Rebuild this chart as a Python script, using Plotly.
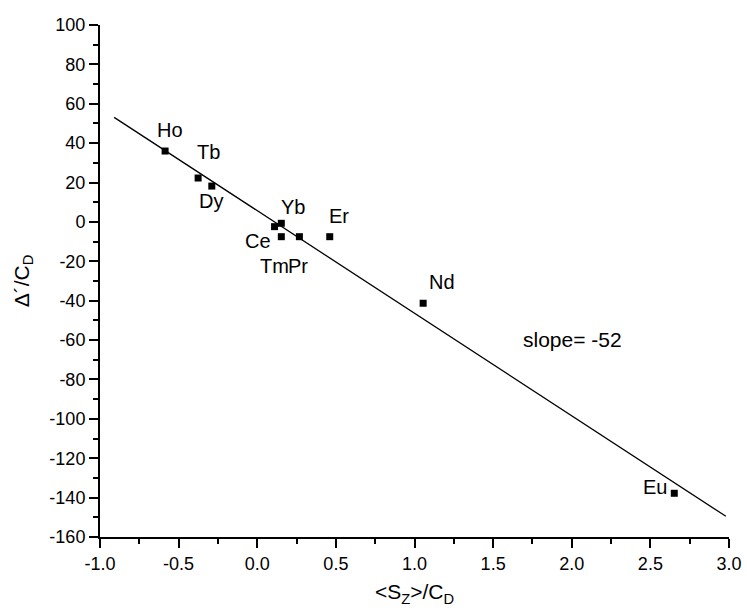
import plotly.graph_objects as go

# data
elements = ["Ho", "Tb", "Dy", "Ce", "Yb", "Tm", "Pr", "Er", "Nd", "Eu"]
sz_cd = [-0.586, -0.376, -0.289, 0.110, 0.153, 0.153, 0.268, 0.461, 1.055, 2.652]
delta_cd = [36.0, 22.3, 18.2, -2.4, -0.7, -7.5, -7.5, -7.5, -41.3, -137.8]

fit_x = [-0.91, 2.98]
fit_y = [53.1, -149.5]

# tick labels (hyphen-minus as in the reference)
x_ticks = [-1.0, -0.5, 0.0, 0.5, 1.0, 1.5, 2.0, 2.5, 3.0]
x_ticktext = ["-1.0", "-0.5", "0.0", "0.5", "1.0", "1.5", "2.0", "2.5", "3.0"]
y_ticks = [100, 80, 60, 40, 20, 0, -20, -40, -60, -80, -100, -120, -140, -160]
y_ticktext = ["100", "80", "60", "40", "20", "0", "-20", "-40", "-60", "-80",
              "-100", "-120", "-140", "-160"]

# label anchor positions (data coordinates)
label_x = [-0.554, -0.312, -0.293, 0.005, 0.229, 0.107, 0.262, 0.521, 1.173, 2.530]
label_y = [46.7, 35.5, 10.6, -9.9, 7.7, -22.4, -22.4, 3.2, -30.3, -134.8]

FONT = "Liberation Sans, Arial, sans-serif"

fig = go.Figure()
fig.add_trace(go.Scatter(x=fit_x, y=fit_y, mode="lines",
                         line=dict(color="black", width=1.3), showlegend=False,
                         hoverinfo="skip"))
fig.add_trace(go.Scatter(x=sz_cd, y=delta_cd, mode="markers", text=elements,
                         marker=dict(symbol="square", size=7, color="black"),
                         showlegend=False))

for name, lx, ly in zip(elements, label_x, label_y):
    fig.add_annotation(x=lx, y=ly, text=name, showarrow=False,
                       font=dict(family=FONT, size=20, color="black"),
                       xanchor="center", yanchor="middle")

fig.add_annotation(x=2.004, y=-59.6, text="slope= -52", showarrow=False,
                   font=dict(family=FONT, size=21, color="black"),
                   xanchor="center", yanchor="middle")

axis_common = dict(
    showline=True, linecolor="black", linewidth=2, mirror=False,
    ticks="outside", ticklen=9, tickwidth=2, tickcolor="black",
    showgrid=False, zeroline=False,
    tickfont=dict(family=FONT, size=18, color="black"),
)

fig.update_xaxes(range=[-1.0, 3.0], tickmode="array", tickvals=x_ticks,
                 ticktext=x_ticktext,
                 minor=dict(dtick=0.25, ticks="outside", ticklen=5, tickwidth=2,
                            tickcolor="black", showgrid=False),
                 title=dict(text="&lt;S<sub>Z</sub>&gt;/C<sub>D</sub>",
                            font=dict(family=FONT, size=21, color="black"),
                            standoff=12),
                 **axis_common)
fig.update_yaxes(range=[-160, 100], tickmode="array", tickvals=y_ticks,
                 ticktext=y_ticktext,
                 minor=dict(dtick=10, ticks="outside", ticklen=5, tickwidth=2,
                            tickcolor="black", showgrid=False),
                 title=dict(text="Δ´/C<sub>D</sub>",
                            font=dict(family=FONT, size=21, color="black"),
                            standoff=14),
                 **axis_common)

fig.update_layout(
    width=747, height=614,
    margin=dict(l=100, r=18, t=25, b=77, autoexpand=False),
    plot_bgcolor="white", paper_bgcolor="white",
    font=dict(family=FONT, color="black"),
)

fig.write_html("out.html")
